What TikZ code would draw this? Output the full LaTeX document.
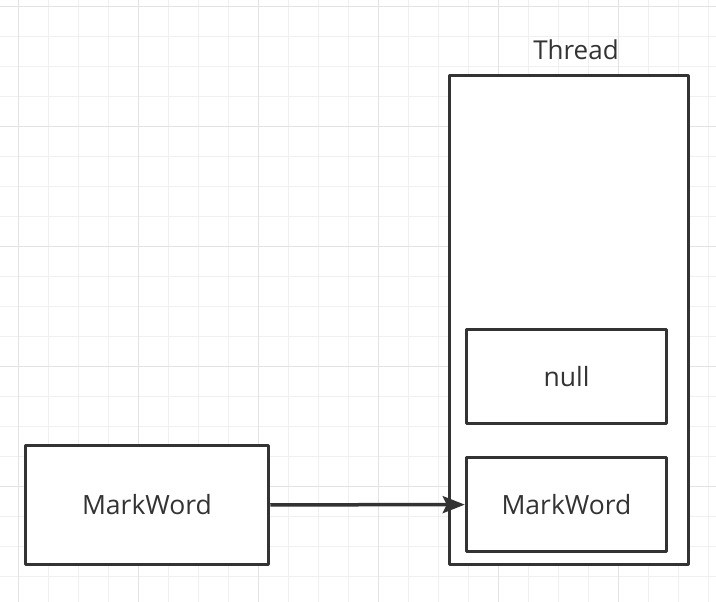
\documentclass[tikz,border=0pt]{standalone}
\usepackage{fontspec}
\setmainfont{Open Sans}
\usetikzlibrary{positioning,arrows.meta}
\definecolor{ink}{HTML}{333333}
\definecolor{gridminor}{HTML}{F0F0F0}
\definecolor{gridmajor}{HTML}{E3E3E3}
\begin{document}
\begin{tikzpicture}[x=1pt,y=-1pt,
  minorline/.style={draw=gridminor,line width=1.5pt},
  majorline/.style={draw=gridmajor,line width=1.5pt},
  box/.style={draw=ink,line width=3.5pt,line join=round,inner sep=0pt,fill=white,
    text=ink,font=\fontsize{26.5}{30}\selectfont},
  lbl/.style={text=ink,inner sep=0pt,font=\fontsize{26}{30}\selectfont},
  flow/.style={draw=ink,line width=3.5pt,-{Stealth[length=22pt,width=17pt,inset=4pt]}}]
  \useasboundingbox (0,0) rectangle (716,602);
  % background grid
  \foreach \x in {18.5,48.5,...,708.5} \draw[minorline] (\x,0) -- (\x,602);
  \foreach \y in {6.5,36.5,...,576.5} \draw[minorline] (0,\y) -- (716,\y);
  \foreach \x in {18.5,138.5,...,618.5} \draw[majorline] (\x,0) -- (\x,602);
  \foreach \y in {6.5,126.5,...,486.5} \draw[majorline] (0,\y) -- (716,\y);

  \node[box,minimum width=243pt,minimum height=119pt] (src) at (147,505) {MarkWord};
  \node[box,minimum width=239pt,minimum height=489pt] (thread) at (569,320) {};
  \node[lbl,anchor=base] (threadlbl) at (576,60) {Thread};
  \node[box,minimum width=200pt,minimum height=94pt] (nullbox) at (566.5,376.5) {null};
  \node[box,minimum width=200pt,minimum height=94pt] (dst) at (566.5,504.5) {MarkWord};

  \draw[flow] (src) -- (dst);
\end{tikzpicture}
\end{document}
